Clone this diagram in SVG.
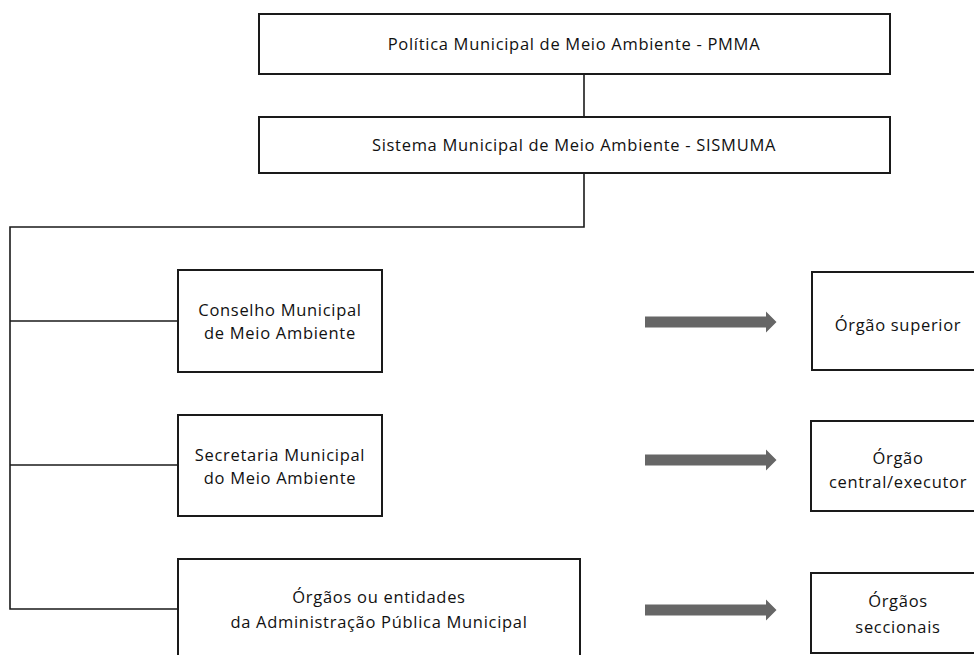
<svg xmlns="http://www.w3.org/2000/svg" width="974" height="655" viewBox="0 0 974 655">
<style>
.box{fill:#fff;stroke:#1a1a1a;stroke-width:2}
.ln{fill:none;stroke:#1a1a1a;stroke-width:1.6}
.arr{fill:#666}
text{font-family:"Open Sans","Liberation Sans",sans-serif;font-size:16.5px;letter-spacing:0.7px;fill:#111;text-anchor:middle}
</style>
<rect width="974" height="655" fill="#fff"/>
<g id="connectors">
<path class="ln" d="M584,74 V117"/>
<path class="ln" d="M584,173 V227 H10 V609 H178"/>
<path class="ln" d="M10,321 H178"/>
<path class="ln" d="M10,465 H178"/>
<path class="arr" d="M645,316.5 H766 V311.5 L776.5,322 L766,332.5 V327.5 H645 Z"/>
<path class="arr" d="M645,454.5 H766 V449.5 L776.5,460 L766,470.5 V465.5 H645 Z"/>
<path class="arr" d="M645,604.5 H766 V599.5 L776.5,610 L766,620.5 V615.5 H645 Z"/>
</g>
<g id="pmma">
<rect class="box" x="259" y="14" width="631" height="60"/>
<text x="574" y="50">Política Municipal de Meio Ambiente - PMMA</text>
</g>
<g id="sismuma">
<rect class="box" x="259" y="117" width="631" height="56"/>
<text x="574" y="151">Sistema Municipal de Meio Ambiente - SISMUMA</text>
</g>
<g id="conselho">
<rect class="box" x="178" y="270" width="204" height="102"/>
<text x="280" y="316">Conselho Municipal</text>
<text x="280" y="339">de Meio Ambiente</text>
</g>
<g id="secretaria">
<rect class="box" x="178" y="415" width="204" height="101"/>
<text x="280" y="461">Secretaria Municipal</text>
<text x="280" y="484">do Meio Ambiente</text>
</g>
<g id="orgaos">
<rect class="box" x="178" y="559" width="402" height="110"/>
<text x="379" y="603">Órgãos ou entidades</text>
<text x="379" y="628">da Administração Pública Municipal</text>
</g>
<g id="superior">
<rect class="box" x="812" y="272" width="180" height="98"/>
<text x="898" y="331">Órgão superior</text>
</g>
<g id="central">
<rect class="box" x="811" y="421" width="180" height="90"/>
<text x="898" y="464">Órgão</text>
<text x="898" y="488">central/executor</text>
</g>
<g id="seccionais">
<rect class="box" x="811" y="573" width="180" height="80"/>
<text x="898" y="607">Órgãos</text>
<text x="898" y="633">seccionais</text>
</g>
</svg>
